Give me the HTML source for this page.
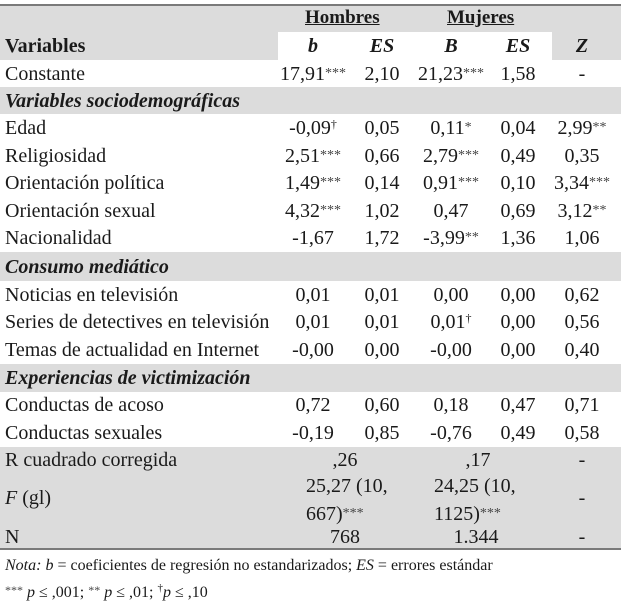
<!DOCTYPE html>
<html><head><meta charset="utf-8"><style>
body{margin:0;width:621px;height:610px;background:#fff;position:relative;overflow:hidden;font-family:"Liberation Serif",serif;font-size:20px;color:#1a1a1a}
.r{position:absolute;left:0;width:621px}
.g{background:#dcdcdc}
.t{position:absolute;white-space:nowrap;line-height:22px}
.c{width:90px;text-align:center}
.l{left:5px}
.sec{font-weight:bold;font-style:italic}
.line{position:absolute;left:0;width:621px;height:2px;background:#7a7a7a}
.sp{font-size:12px;position:relative;top:-6px;line-height:0}
.st{font-size:14px;color:#444;position:relative;top:-3px;line-height:0}
</style></head><body>
<div class="r g" style="top:5px;height:55px"></div>
<div class="r" style="top:32px;left:278px;width:274px;height:28px;background:#fff"></div>
<div class="line" style="top:4px"></div>
<div class="t" style="left:305px;top:7px;font-weight:bold;font-size:19px;text-decoration:underline">Hombres</div>
<div class="t" style="left:447px;top:7px;font-weight:bold;font-size:19px;text-decoration:underline">Mujeres</div>
<div class="t l" style="top:35px;font-weight:bold">Variables</div>
<div class="t c" style="left:268px;top:35px;font-weight:bold;font-style:italic">b</div>
<div class="t c" style="left:337px;top:35px;font-weight:bold;font-style:italic">ES</div>
<div class="t c" style="left:406px;top:35px;font-weight:bold;font-style:italic">B</div>
<div class="t c" style="left:473px;top:35px;font-weight:bold;font-style:italic">ES</div>
<div class="t c" style="left:537px;top:35px;font-weight:bold;font-style:italic">Z</div>

<div class="r g" style="top:87px;height:27px"></div>
<div class="r g" style="top:252px;height:29px"></div>
<div class="r g" style="top:364px;height:28px"></div>
<div class="r g" style="top:447px;height:101px"></div>
<div class="line" style="top:548px"></div>

<div id="rows"></div>

<div class="t l" style="top:449px">R cuadrado corregida</div>
<div class="t c" style="left:300px;top:449px">,26</div>
<div class="t c" style="left:433px;top:449px">,17</div>
<div class="t c" style="left:537px;top:449px">-</div>
<div class="t l" style="top:487px"><i>F</i> (gl)</div>
<div class="t" style="left:306px;top:472px;line-height:28px">25,27 (10,<br>667)<span class="st">***</span></div>
<div class="t" style="left:434px;top:472px;line-height:28px">24,25 (10,<br>1125)<span class="st">***</span></div>
<div class="t c" style="left:537px;top:487px">-</div>
<div class="t l" style="top:526px">N</div>
<div class="t c" style="left:300px;top:526px">768</div>
<div class="t c" style="left:431px;top:526px">1.344</div>
<div class="t c" style="left:537px;top:526px">-</div>

<div class="t l" style="top:555px;font-size:16px"><i>Nota: b</i> = coeficientes de regresión no estandarizados; <i>ES</i> = errores estándar</div>
<div class="t l" style="top:582px;font-size:16px"><span class="st" style="font-size:12px">***</span> <i>p</i> ≤ ,001; <span class="st" style="font-size:12px">**</span> <i>p</i> ≤ ,01; <span class="sp" style="font-size:11px">†</span><i>p</i> ≤ ,10</div>

<script>
const rowLabels=["Constante","Variables sociodemográficas","Edad","Religiosidad","Orientación política","Orientación sexual","Nacionalidad","Consumo mediático","Noticias en televisión","Series de detectives en televisión","Temas de actualidad en Internet","Experiencias de victimización","Conductas de acoso","Conductas sexuales"];
const rowCenters=[74,101,128,156,183,211,238,267,295,322,350,378,405,433];
const colB=["17,91***","","-0,09†","2,51***","1,49***","4,32***","-1,67","","0,01","0,01","-0,00","","0,72","-0,19"];
const colES=["2,10","","0,05","0,66","0,14","1,02","1,72","","0,01","0,01","0,00","","0,60","0,85"];
const colB2=["21,23***","","0,11*","2,79***","0,91***","0,47","-3,99**","","0,00","0,01†","-0,00","","0,18","-0,76"];
const colES2=["1,58","","0,04","0,49","0,10","0,69","1,36","","0,00","0,00","0,00","","0,47","0,49"];
const colZ=["-","","2,99**","0,35","3,34***","3,12**","1,06","","0,62","0,56","0,40","","0,71","0,58"];
const colX=[268,337,406,473,537];
function fmt(s){return s.replace(/(\*+)/,'<span class="st">$1</span>').replace('†','<span class="sp">†</span>');}
const host=document.getElementById('rows');
rowLabels.forEach((lab,i)=>{
  const y=rowCenters[i]-11;
  const d=document.createElement('div');
  d.className='t l'+(colB[i]===''?' sec':'');
  d.style.top=y+'px';d.textContent=lab;
  
  
  host.appendChild(d);
  [colB,colES,colB2,colES2,colZ].forEach((col,j)=>{
    if(col[i]==='')return;
    const c=document.createElement('div');
    c.className='t c';c.style.left=colX[j]+'px';c.style.top=y+'px';
    c.innerHTML=fmt(col[i]);
    
    
    host.appendChild(c);
  });
});
</script>
</body></html>
